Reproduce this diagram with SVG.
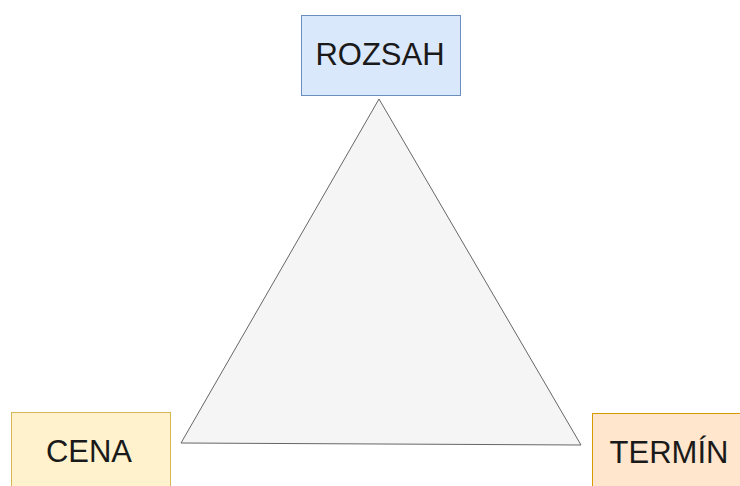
<svg xmlns="http://www.w3.org/2000/svg" width="740" height="486" viewBox="0 0 740 486">
<style>
.lbl{font-family:"Liberation Sans",Arial,sans-serif;font-size:31px;fill:#1a1a1a;text-anchor:middle}
</style>
<rect width="740" height="486" fill="#ffffff"/>
<g id="triangle">
<polygon points="379,99 181,443 581,445" fill="#f5f5f5" stroke="#666666" stroke-width="1"/>
</g>
<g id="rozsah">
<rect x="301.5" y="15.5" width="159" height="80" fill="#dae8fc" stroke="#6c8ebf"/>
<text class="lbl" x="380" y="65">ROZSAH</text>
</g>
<g id="cena">
<rect x="11.5" y="412.5" width="159" height="80" fill="#fff2cc" stroke="#d6b656"/>
<text class="lbl" x="89" y="462">CENA</text>
</g>
<g id="termin">
<rect x="592.5" y="413.5" width="159" height="80" fill="#ffe6cc" stroke="#d79b00"/>
<text class="lbl" x="669" y="463">TERMÍN</text>
</g>
<g id="connectors"></g>
</svg>
